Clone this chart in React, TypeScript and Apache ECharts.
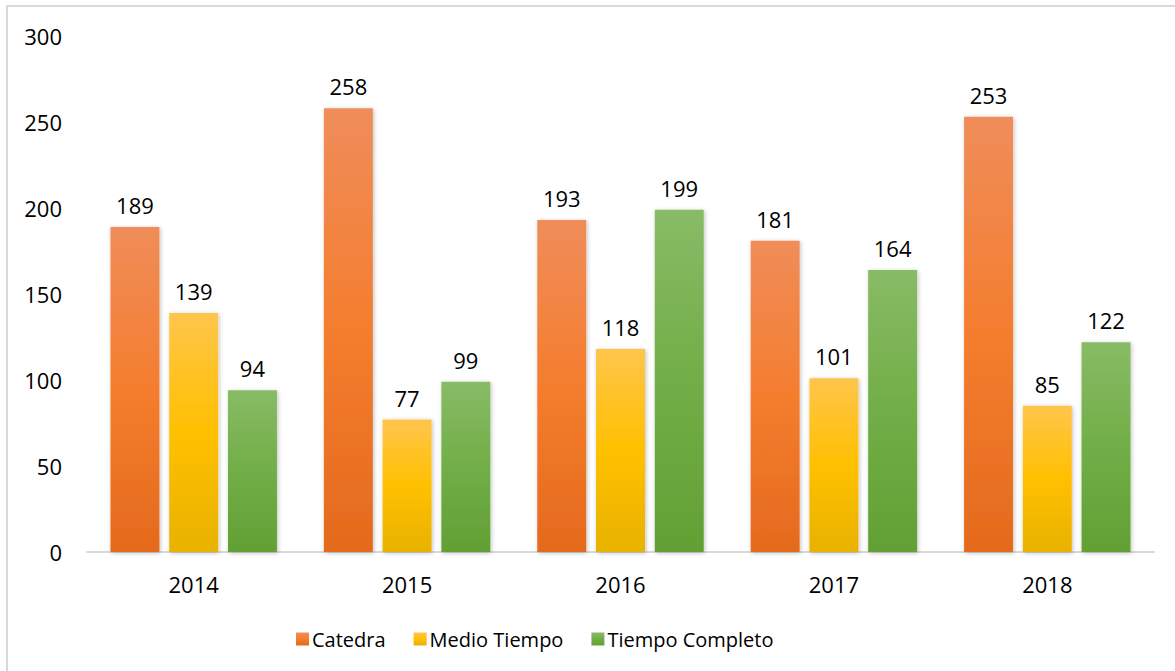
import React, { useEffect, useRef } from "react";
import * as echarts from "echarts";

const categories = ["2014", "2015", "2016", "2017", "2018"];
const catedra = [189, 258, 193, 181, 253];
const medioTiempo = [139, 77, 118, 101, 85];
const tiempoCompleto = [94, 99, 199, 164, 122];
const seriesNames = ["Catedra", "Medio Tiempo", "Tiempo Completo"];

const FONT = "'Open Sans', sans-serif";

function grad(top: string, mid: string, bottom: string) {
  return new echarts.graphic.LinearGradient(0, 0, 0, 1, [
    { offset: 0, color: top },
    { offset: 0.5, color: mid },
    { offset: 1, color: bottom },
  ]);
}

export default function App() {
  const ref = useRef<HTMLDivElement>(null);
  useEffect(() => {
    if (!ref.current) return;
    const chart = echarts.init(ref.current, null, { renderer: "svg" });
    const stops = [
      ["#F08D5A", "#F47D2E", "#E46A1D"],
      ["#FFC54C", "#FFC000", "#E8B200"],
      ["#88BB66", "#71AE47", "#62A034"],
    ];
    const colors = stops.map((s) => grad(s[0], s[1], s[2]));
    const legendColors = stops.map((s) => grad(s[0], s[1], s[2]));
    const datas = [catedra, medioTiempo, tiempoCompleto];
    chart.setOption({
      animation: false,
      graphic: [
        {
          type: "rect",
          shape: { x: 7, y: 6, width: 1300, height: 1000 },
          style: { fill: "none", stroke: "#d9d9d9", lineWidth: 2 },
          silent: true,
        },
      ],
      grid: { left: 87, right: 21, top: 36, bottom: 119 },
      legend: {
        data: seriesNames.map((n, i) => ({
          name: n,
          itemStyle: { color: legendColors[i], shadowBlur: 0 },
        })),
        left: 291,
        top: 624,
        icon: "rect",
        itemWidth: 13,
        itemHeight: 13,
        itemGap: 28,
        textStyle: { fontFamily: FONT, fontSize: 20, color: "#000", padding: [0, 0, 0, -2] },
      },
      xAxis: {
        type: "category",
        data: categories,
        axisLine: { lineStyle: { color: "#d9d9d9", width: 2 } },
        axisTick: { show: false },
        axisLabel: { fontFamily: FONT, fontSize: 22, color: "#000", margin: 21 },
      },
      yAxis: {
        type: "value",
        min: 0,
        max: 300,
        interval: 50,
        splitLine: { show: false },
        axisLine: { show: false },
        axisTick: { show: false },
        axisLabel: { fontFamily: FONT, fontSize: 22, color: "#000", margin: 25 },
      },
      series: datas.map((d, i) => ({
        name: seriesNames[i],
        type: "bar",
        data: d,
        barGap: "20%",
        barCategoryGap: "22%",
        itemStyle: {
          color: colors[i],
          shadowBlur: 4,
          shadowColor: "rgba(0,0,0,0.25)",
          shadowOffsetX: 1,
          shadowOffsetY: 1,
        },
        label: {
          show: true,
          position: "top",
          distance: 11,
          fontFamily: FONT,
          fontSize: 22,
          color: "#000",
        },
      })),
    });
    return () => chart.dispose();
  }, []);
  return (
    <div
      ref={ref}
      style={{ position: "absolute", left: 0, top: 0, width: 1175, height: 671, background: "#fff" }}
    />
  );
}
